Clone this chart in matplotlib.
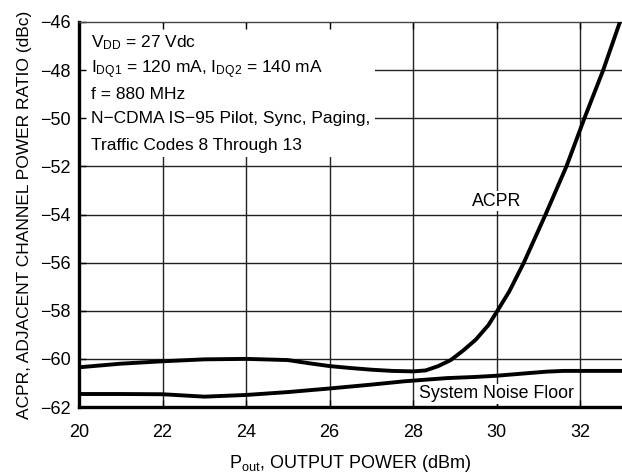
import matplotlib
matplotlib.use("Agg")
import matplotlib.pyplot as plt
from matplotlib.patches import Rectangle
from matplotlib.ticker import FixedLocator

plt.rcParams['font.family'] = ['Liberation Sans', 'DejaVu Sans']
plt.rcParams['mathtext.default'] = 'regular'

# ACPR curve
acpr_pout = [20, 21, 22, 23, 24, 25, 25.5, 26, 26.5, 27, 27.5, 28, 28.3, 28.6,
             28.9, 29.2, 29.5, 29.8, 30.0, 30.3, 30.65, 31.17, 31.67, 32.1,
             32.55, 32.95, 33]
acpr_dbc = [-60.35, -60.2, -60.1, -60.02, -60.0, -60.05, -60.18, -60.3, -60.38,
            -60.45, -60.5, -60.52, -60.48, -60.3, -60.05, -59.65, -59.2, -58.6,
            -58.05, -57.2, -56.0, -54.0, -52.0, -50.0, -48.0, -46.0, -45.75]

# system noise floor
noise_pout = [20, 21, 22, 23, 24, 25, 26, 27, 27.8, 28.8, 29.5, 30.0, 30.7,
              31.2, 31.6, 32, 33]
noise_dbc = [-61.46, -61.46, -61.47, -61.57, -61.5, -61.38, -61.23, -61.07,
             -60.93, -60.8, -60.75, -60.7, -60.6, -60.53, -60.5, -60.5, -60.5]

x_ticks = [20, 22, 24, 26, 28, 30, 32]
y_ticks = [-62, -60, -58, -56, -54, -52, -50, -48, -46]

fig = plt.figure(figsize=(6.22, 4.75), dpi=100)
ax = fig.add_axes([79 / 622, 1 - 407 / 475, 1 - 79 / 622, (407 - 22) / 475])
ax.set_xlim(20, 33)
ax.set_ylim(-62, -46)

# gridlines drawn by hand so the text boxes can cover them but not the ticks
ax.vlines(x_ticks[1:], -62, -46, colors='#222222', linewidth=1.0, zorder=1)
ax.hlines(y_ticks[1:-1], 20, 33, colors='#222222', linewidth=1.0, zorder=1)
ax.add_patch(Rectangle((0, 0.65), (375 - 79) / 543, 0.345, transform=ax.transAxes,
                       facecolor='white', edgecolor='none', zorder=1.5))

ax.plot(acpr_pout, acpr_dbc, color='black', linewidth=2.8, zorder=3,
        solid_capstyle='butt', solid_joinstyle='round')
ax.plot(noise_pout, noise_dbc, color='black', linewidth=2.8, zorder=3,
        solid_capstyle='butt', solid_joinstyle='round')

ax.xaxis.set_major_locator(FixedLocator(x_ticks))
ax.yaxis.set_major_locator(FixedLocator(y_ticks))
ax.tick_params(direction='in', length=5, width=1, labelsize=13,
               top=True, right=False)
ax.tick_params(axis='x', pad=12)
ax.tick_params(axis='y', pad=6)

for s in ['left', 'bottom']:
    ax.spines[s].set_linewidth(2.4)
ax.spines['top'].set_linewidth(1.0)
ax.spines['top'].set_color('#444444')
ax.spines['right'].set_visible(False)

ax.set_xlabel('P$_{out}$, OUTPUT POWER (dBm)', fontsize=13, labelpad=9)
ax.set_ylabel('ACPR, ADJACENT CHANNEL POWER RATIO (dBc)', fontsize=12.5, labelpad=6)

info = ['V$_{DD}$ = 27 Vdc',
        'I$_{DQ1}$ = 120 mA, I$_{DQ2}$ = 140 mA',
        'f = 880 MHz',
        'N\u2212CDMA IS\u221295 Pilot, Sync, Paging,',
        'Traffic Codes 8 Through 13']
info_y = [-46.85, -48.0, -49.0, -50.0, -51.15]
for t, yy in zip(info, info_y):
    ax.text(20.28, yy, t, fontsize=12.5, va='center', ha='left', zorder=2)

ax.text(30.0, -53.45, 'ACPR', fontsize=12.8, ha='center', va='center', zorder=2,
        bbox=dict(facecolor='white', edgecolor='none', pad=1))
ax.text(30.0, -61.45, 'System Noise Floor', fontsize=12.8, ha='center', va='center',
        zorder=2, bbox=dict(facecolor='white', edgecolor='none', pad=1))

fig.savefig('out.png', dpi=100)
